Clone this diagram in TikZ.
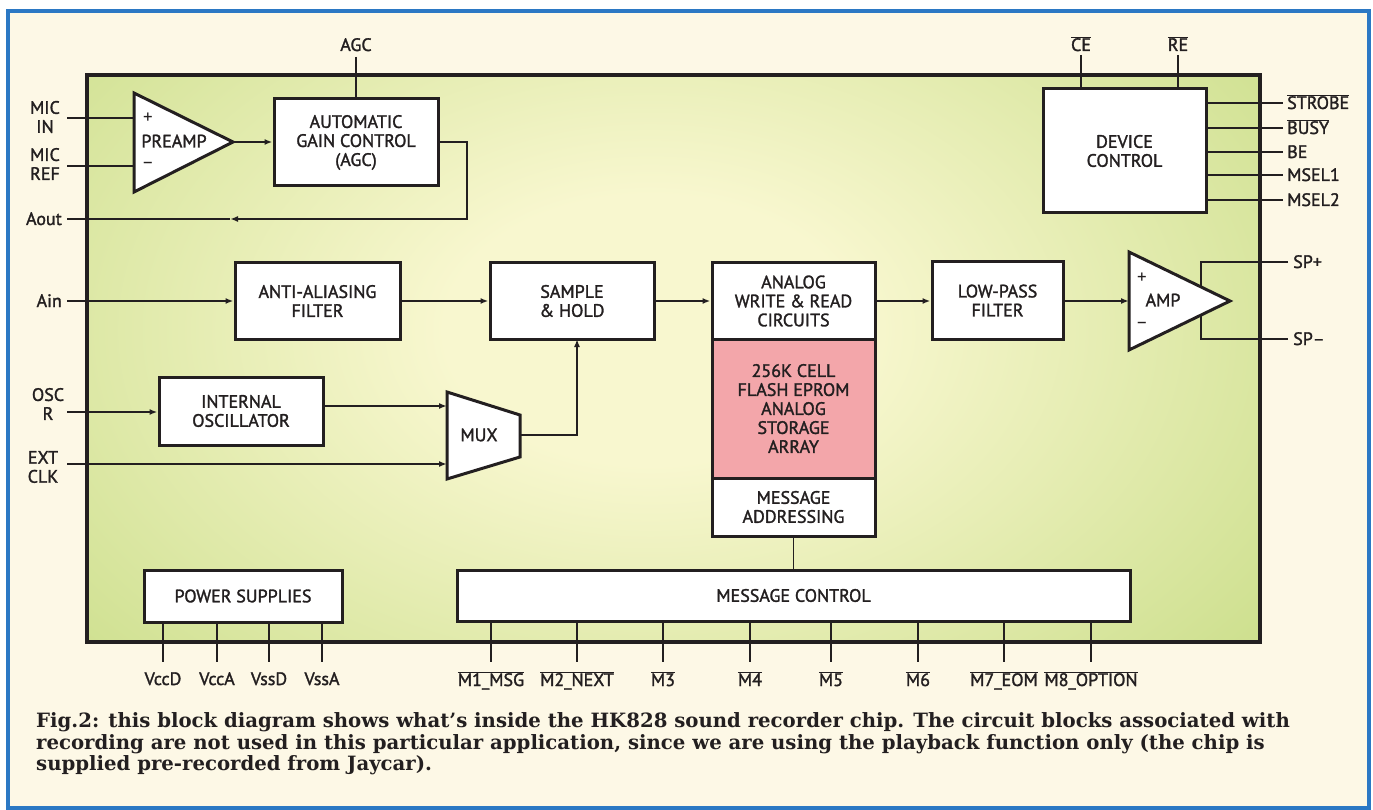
\documentclass[tikz,border=0pt]{standalone}
\usepackage{fontspec}
\setmainfont{PT Sans}
\newfontfamily\dfont{PT Sans}[FakeBold=1.6]
\newfontfamily\capfont{DejaVu Serif}
\usetikzlibrary{arrows.meta,calc}
\definecolor{ink}{HTML}{231F20}
\definecolor{cream}{HTML}{FDF8E6}
\definecolor{bord}{HTML}{2B78C4}
\definecolor{pinkc}{HTML}{F3A6AA}
\definecolor{chipin}{HTML}{F8F7CF}
\definecolor{chipout}{HTML}{B3D166}
\pgfdeclareradialshading{chipshade}{\pgfpoint{0bp}{0bp}}{color(0bp)=(chipin); color(8bp)=(chipin); color(44bp)=(chipout); color(80bp)=(chipout)}
\newcommand{\ovl}[1]{\ensuremath{\overline{\mbox{#1}}}}
\begin{document}
\begin{tikzpicture}[x=1pt,y=-1pt,
  lbl/.style={font=\dfont\fontsize{18}{19}\selectfont, text=ink, inner sep=0pt, align=center},
  blk/.style={draw=ink, line width=3pt, fill=white, font=\dfont\fontsize{18}{19}\selectfont, text=ink, align=center, inner sep=0pt},
  wire/.style={draw=ink, line width=1.8pt},
  arw/.style={wire, -{Latex[length=8pt,width=6pt]}},
  ampst/.style={draw=ink, line width=3pt, fill=white, line join=miter},
  sign/.style={font=\fontsize{19}{19}\selectfont, text=ink, inner sep=0pt},
  captxt/.style={anchor=base west, font=\capfont\bfseries\fontsize{19.7}{20}\selectfont, text=ink, inner sep=0pt}
]
\useasboundingbox (0,0) rectangle (1373,810);
\fill[white] (0,0) rectangle (1373,810);
\fill[cream] (8,11) rectangle (1369,808);
\draw[bord, line width=4pt] (8,11) rectangle (1369,808);

% chip body
\begin{scope}
\clip (87,75) rectangle (1260,642);
\shade[shading=chipshade] (10,-90) rectangle (1290,750);
\end{scope}
\draw[ink, line width=4.5pt] (87,75) rectangle (1260,642);

% ---------- top left: preamp / AGC ----------
\coordinate (micin) at (67,118);
\coordinate (micref) at (67,166);
\coordinate (prep) at (134,118);
\coordinate (prem) at (134,166);
\coordinate (preout) at (233,142);
\draw[wire] (micin) -- (prep);
\draw[wire] (micref) -- (prem);
\draw[ampst] (134,93) -- (233,142) -- (134,192) -- cycle;
\node[sign] (preplus) at (148,118) {+};
\node[sign] (preminus) at (148,165) {–};
\node[lbl] (preamp) at (174,141) {PREAMP};
\node[lbl] (lmicin) at (45,117) {MIC\\IN};
\node[lbl] (lmicref) at (45,164) {MIC\\REF};

\node[blk, minimum width=164, minimum height=87] (agc) at (356,142.5) {AUTOMATIC\\GAIN CONTROL\\(AGC)};
\draw[arw] (preout) -- (preout -| agc.west);
\coordinate (agcpin) at (356,57);
\node[lbl, anchor=base] (lagc) at (356,51) {AGC};
\draw[wire] (agcpin) -- (agc.north);
\coordinate (fbc) at (467,219);
\coordinate (fbmid) at (230,219);
\coordinate (aoutpin) at (67,219);
\draw[arw] (agc.east |- 0,142) -| (fbc) -- (fbmid);
\draw[wire] (fbmid) -- (aoutpin);
\node[lbl, anchor=base east] (laout) at (62,225) {Aout};

% ---------- device control ----------
\node[blk, minimum width=163, minimum height=124] (dev) at (1124.5,151) {DEVICE\\CONTROL};
\coordinate (cepin) at (1081,55);
\coordinate (repin) at (1178,55);
\draw[wire] (cepin) -- (cepin |- dev.north);
\draw[wire] (repin) -- (repin |- dev.north);
\node[lbl, anchor=base] (lce) at (1081,51) {\ovl{CE}};
\node[lbl, anchor=base] (lre) at (1178,51) {\ovl{RE}};
\foreach \yy/\nm/\tx in {103/strobe/\ovl{STROBE}, 128/busy/\ovl{BUSY}, 152/be/BE, 175/msela/MSEL1, 200/mselb/MSEL2}{
  \coordinate (\nm) at (1283,\yy);
  \draw[wire] (dev.east |- \nm) -- (\nm);
  \node[lbl, anchor=base west] (l\nm) at (1287,\yy+6) {\tx};
}

% ---------- signal path ----------
\coordinate (ainpin) at (67,301);
\node[lbl, anchor=base east] (lain) at (62,307) {Ain};
\node[blk, minimum width=165, minimum height=76] (aa) at (317.5,301) {ANTI-ALIASING\\FILTER};
\node[blk, minimum width=164, minimum height=76] (sh) at (572,301) {SAMPLE\\\& HOLD};
\node[blk, minimum width=163, minimum height=76] (awr) at (793.5,301) {ANALOG\\WRITE \& READ\\CIRCUITS};
\node[blk, fill=pinkc, minimum width=163, minimum height=139] (stor) at (793.5,408.5) {256K CELL\\FLASH EPROM\\ANALOG\\STORAGE\\ARRAY};
\node[blk, minimum width=163, minimum height=58] (madr) at (793.5,507) {MESSAGE\\ADDRESSING};
\node[blk, minimum width=131, minimum height=77] (lpf) at (997.5,300.5) {LOW-PASS\\FILTER};
\draw[arw] (ainpin) -- (aa.west);
\draw[arw] (aa.east) -- (sh.west);
\draw[arw] (sh.east) -- (awr.west);
\draw[arw] (awr.east) -- (lpf.west |- awr.east);
\coordinate (ampin) at (1129,301);
\draw[arw] (lpf.east |- ampin) -- (ampin);

% amp
\coordinate (spp) at (1288,262);
\coordinate (spm) at (1288,339);
\draw[wire] (spp) -- (1201,262) -- (1201,339) -- (spm);
\draw[ampst] (1129,252) -- (1230,301) -- (1129,350) -- cycle;
\node[sign] (aplus) at (1142,278) {+};
\node[sign] (aminus) at (1142,325) {–};
\node[lbl] (ampl) at (1163,300) {AMP};
\node[lbl, anchor=base west] (lspp) at (1293,268) {SP+};
\node[lbl, anchor=base west] (lspm) at (1293,345) {SP–};

% oscillator / mux
\node[blk, minimum width=164, minimum height=68] (osc) at (241,411) {INTERNAL\\OSCILLATOR};
\coordinate (oscpin) at (67,412);
\coordinate (extpin) at (67,464);
\coordinate (muxa) at (447,406);
\coordinate (muxb) at (447,464);
\coordinate (muxout) at (520,435);
\coordinate (shin) at (577,339);
\node[lbl] (losc) at (48,404) {OSC\\R};
\node[lbl] (lext) at (43,467) {EXT\\CLK};
\draw[arw] (oscpin) -- (osc.west |- oscpin);
\draw[arw] (osc.east |- muxa) -- (muxa);
\draw[arw] (extpin) -- (muxb);
\draw[arw] (muxout) -| (shin);
\draw[ampst] (447,392) -- (520,415) -- (520,457) -- (447,479) -- cycle;
\node[lbl] (muxl) at (479,435) {MUX};

% ---------- bottom ----------
\node[blk, minimum width=198, minimum height=52] (ps) at (243,596) {POWER SUPPLIES};
\node[blk, minimum width=673, minimum height=51] (mc) at (793.5,595.5) {MESSAGE CONTROL};
\draw[wire] (madr.south) -- (mc.north);
\foreach \xx/\nm/\tx in {163/vccd/VccD, 217/vcca/VccA, 269/vssd/VssD, 322/vssa/VssA}{
  \coordinate (\nm) at (\xx,662);
  \draw[wire] (ps.south -| \nm) -- (\nm);
  \node[lbl, anchor=base] (l\nm) at (\xx,685) {\tx};
}
\foreach \xx/\nm/\tx in {491/ma/M1\_MSG, 577/mb/M2\_NEXT, 663/mcc/M3, 750/md/M4, 831/me/M5, 918/mf/M6, 1004/mg/M7\_EOM, 1091/mh/M8\_OPTION}{
  \coordinate (\nm) at (\xx,662);
  \draw[wire] (mc.south -| \nm) -- (\nm);
  \node[lbl, anchor=base] (l\nm) at (\xx,686) {\ovl{\tx}};
}

% ---------- caption ----------
\node[captxt] (cap1) at (36,727) {Fig.2: this block diagram shows what’s inside the HK828 sound recorder chip. The circuit blocks associated with};
\node[captxt] (cap2) at (36,749) {recording are not used in this particular application, since we are using the playback function only (the chip is};
\node[captxt] (cap3) at (36,770) {supplied pre-recorded from Jaycar).};
\end{tikzpicture}
\end{document}
